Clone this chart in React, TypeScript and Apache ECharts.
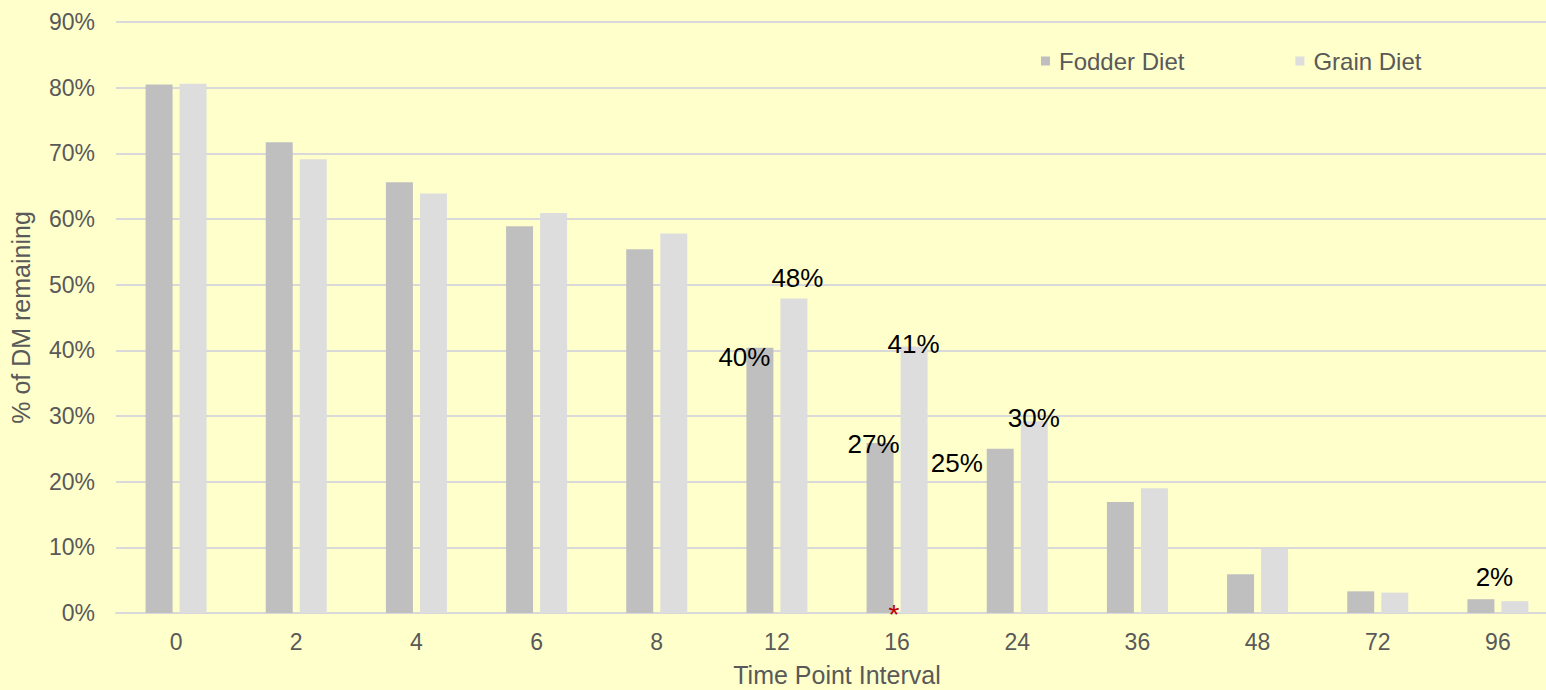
import React, { useEffect, useRef } from "react";
import * as echarts from "echarts";

const categories = ["0", "2", "4", "6", "8", "12", "16", "24", "36", "48", "72", "96"];
const fodderValues = [80.5, 71.7, 65.6, 58.9, 55.4, 40.4, 25.9, 25.0, 16.9, 5.9, 3.3, 2.1];
const grainValues = [80.6, 69.1, 63.9, 60.9, 57.8, 47.9, 40.6, 29.2, 19.0, 9.8, 3.1, 1.8];
const fodderLabels = ["", "", "", "", "", "40%", "27%", "25%", "", "", "", ""];
const grainLabels = ["", "", "", "", "", "48%", "41%", "30%", "", "", "", "2%"];
const yTicks = [0, 10, 20, 30, 40, 50, 60, 70, 80, 90];

// label offsets relative to bar top-left corner
const fodderLabelPos: Record<number, [number, number]> = { 5: [-2, 9], 6: [7, 1], 7: [-30, 14] };
const grainLabelPos: Record<number, [number, number]> = { 5: [17, -20], 6: [13, -2], 7: [13, -3], 11: [-7, -24] };

const FONT = "'Liberation Sans', Arial, sans-serif";

export default function App() {
  const ref = useRef<HTMLDivElement>(null);
  useEffect(() => {
    if (!ref.current) return;
    const chart = echarts.init(ref.current, undefined, { renderer: "svg" });
    const mkData = (vals: number[], labels: string[], pos: Record<number, [number, number]>) =>
      vals.map((v, i) =>
        labels[i]
          ? {
              value: v,
              label: {
                show: true,
                formatter: labels[i],
                position: pos[i],
                align: "center",
                verticalAlign: "middle",
                color: "#000000",
                fontSize: 26,
                fontFamily: FONT,
              },
            }
          : v
      );
    chart.setOption({
      animation: false,
      backgroundColor: "#FFFFCC",
      textStyle: { fontFamily: FONT },
      grid: { left: 116, top: 22, width: 1442, bottom: 77, containLabel: false, outerBoundsMode: "none" },
      legend: {
        left: 1041,
        top: 49,
        padding: 0,
        itemWidth: 9,
        itemHeight: 9,
        itemGap: 111,
        icon: "rect",
        textStyle: { color: "#595959", fontSize: 24, fontFamily: FONT, padding: [0, 0, 0, 4] },
        data: ["Fodder Diet", "Grain Diet"],
      },
      xAxis: {
        type: "category",
        data: categories,
        name: "Time Point Interval",
        nameLocation: "middle",
        nameGap: 50,
        nameTextStyle: { color: "#595959", fontSize: 25, lineHeight: 24, fontFamily: FONT },
        axisLine: { show: true, lineStyle: { color: "#D9D9D9", width: 2 } },
        axisTick: { show: false },
        axisLabel: { color: "#595959", fontSize: 23, margin: 17, fontFamily: FONT },
      },
      yAxis: {
        type: "value",
        min: yTicks[0],
        max: yTicks[yTicks.length - 1],
        interval: 10,
        name: "% of DM remaining",
        nameLocation: "middle",
        nameGap: 83,
        nameTextStyle: { color: "#595959", fontSize: 25, fontFamily: FONT },
        axisLine: { show: false },
        axisTick: { show: false },
        axisLabel: { color: "#595959", fontSize: 23, margin: 21, formatter: "{value}%", fontFamily: FONT },
        splitLine: { lineStyle: { color: "#D9D9D9", width: 2 } },
      },
      series: [
        {
          name: "Fodder Diet",
          type: "bar",
          data: mkData(fodderValues, fodderLabels, fodderLabelPos),
          barWidth: 27,
          barGap: "26%",
          itemStyle: { color: "#BFBFBF" },
          markPoint: {
            symbol: "circle",
            symbolSize: 0,
            data: [
              {
                coord: [6, 0],
                label: {
                  show: true,
                  formatter: "*",
                  position: "inside",
                  color: "#C00000",
                  fontSize: 28,
                  lineHeight: 10,
                  fontFamily: FONT,
                  offset: [14, 1],
                },
              },
            ],
          },
        },
        {
          name: "Grain Diet",
          type: "bar",
          data: mkData(grainValues, grainLabels, grainLabelPos),
          barWidth: 27,
          itemStyle: { color: "#DDDDDD" },
        },
      ],
    });
    return () => chart.dispose();
  }, []);
  return (
    <div style={{ position: "absolute", left: 0, top: 0, width: 1546, height: 690, overflow: "hidden" }}>
      <div ref={ref} style={{ width: 1560, height: 690 }} />
    </div>
  );
}
